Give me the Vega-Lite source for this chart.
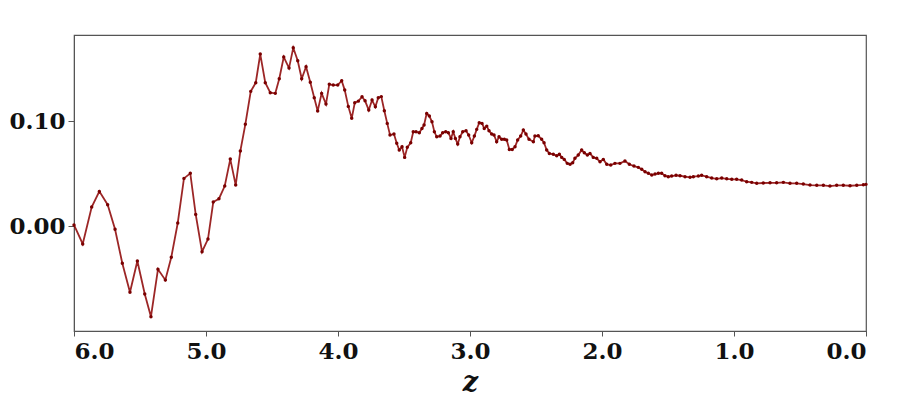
{
  "$schema": "https://vega.github.io/schema/vega-lite/v6.json",
  "width": 792,
  "height": 296,
  "autosize": {"type": "none"},
  "padding": {"left": 74, "top": 35, "right": 31, "bottom": 83},
  "background": "white",
  "config": {
    "view": {"stroke": "#555555", "strokeWidth": 1.2},
    "axis": {
      "grid": false,
      "domainColor": "#555555",
      "tickColor": "#555555",
      "labelFont": "DejaVu Serif",
      "labelFontWeight": "bold",
      "labelFontSize": 23,
      "labelColor": "#111111",
      "titleFont": "DejaVu Serif",
      "titleColor": "#111111"
    }
  },
  "data": {
    "values": [
      {"z": 6.0, "v": 0.001}, {"z": 5.934, "v": -0.0171}, {"z": 5.866, "v": 0.0181}, {"z": 5.808, "v": 0.033},
      {"z": 5.745, "v": 0.0203}, {"z": 5.689, "v": -0.0031}, {"z": 5.634, "v": -0.0355}, {"z": 5.576, "v": -0.0631},
      {"z": 5.52, "v": -0.0333}, {"z": 5.464, "v": -0.0648}, {"z": 5.417, "v": -0.0864}, {"z": 5.364, "v": -0.0412},
      {"z": 5.308, "v": -0.0514}, {"z": 5.263, "v": -0.0298}, {"z": 5.214, "v": 0.0029}, {"z": 5.167, "v": 0.0454},
      {"z": 5.119, "v": 0.0502}, {"z": 5.078, "v": 0.0111}, {"z": 5.03, "v": -0.0245}, {"z": 4.985, "v": -0.0124},
      {"z": 4.945, "v": 0.0229}, {"z": 4.902, "v": 0.026}, {"z": 4.858, "v": 0.0381}, {"z": 4.816, "v": 0.0638},
      {"z": 4.775, "v": 0.039}, {"z": 4.74, "v": 0.0714}, {"z": 4.702, "v": 0.0969}, {"z": 4.661, "v": 0.1283},
      {"z": 4.623, "v": 0.1365}, {"z": 4.589, "v": 0.1638}, {"z": 4.551, "v": 0.1365}, {"z": 4.513, "v": 0.127},
      {"z": 4.475, "v": 0.1264}, {"z": 4.445, "v": 0.1403}, {"z": 4.411, "v": 0.161}, {"z": 4.371, "v": 0.1505},
      {"z": 4.339, "v": 0.1698}, {"z": 4.305, "v": 0.1574}, {"z": 4.275, "v": 0.1403}, {"z": 4.242, "v": 0.1517},
      {"z": 4.21, "v": 0.1369}, {"z": 4.18, "v": 0.1222}, {"z": 4.154, "v": 0.1095}, {"z": 4.124, "v": 0.1264},
      {"z": 4.091, "v": 0.1162}, {"z": 4.066, "v": 0.135}, {"z": 4.036, "v": 0.1343}, {"z": 4.002, "v": 0.1343},
      {"z": 3.972, "v": 0.1384}, {"z": 3.949, "v": 0.1295}, {"z": 3.922, "v": 0.114}, {"z": 3.896, "v": 0.1026},
      {"z": 3.873, "v": 0.1174}, {"z": 3.846, "v": 0.119}, {"z": 3.818, "v": 0.1231}, {"z": 3.795, "v": 0.1193},
      {"z": 3.767, "v": 0.1105}, {"z": 3.742, "v": 0.12}, {"z": 3.717, "v": 0.1136}, {"z": 3.695, "v": 0.1222},
      {"z": 3.672, "v": 0.1233}, {"z": 3.649, "v": 0.1098}, {"z": 3.627, "v": 0.0978}, {"z": 3.606, "v": 0.0867},
      {"z": 3.576, "v": 0.0876}, {"z": 3.555, "v": 0.0788}, {"z": 3.536, "v": 0.0724}, {"z": 3.515, "v": 0.0755},
      {"z": 3.495, "v": 0.0654}, {"z": 3.475, "v": 0.075}, {"z": 3.449, "v": 0.0793}, {"z": 3.43, "v": 0.0898},
      {"z": 3.409, "v": 0.0898}, {"z": 3.384, "v": 0.0889}, {"z": 3.364, "v": 0.093}, {"z": 3.348, "v": 0.0962},
      {"z": 3.328, "v": 0.1073}, {"z": 3.308, "v": 0.1048}, {"z": 3.288, "v": 0.0993}, {"z": 3.27, "v": 0.0898},
      {"z": 3.252, "v": 0.085}, {"z": 3.227, "v": 0.0857}, {"z": 3.207, "v": 0.0889}, {"z": 3.184, "v": 0.0898},
      {"z": 3.164, "v": 0.0889}, {"z": 3.144, "v": 0.0835}, {"z": 3.127, "v": 0.0898}, {"z": 3.111, "v": 0.0835},
      {"z": 3.093, "v": 0.0781}, {"z": 3.076, "v": 0.085}, {"z": 3.055, "v": 0.0898}, {"z": 3.03, "v": 0.0908},
      {"z": 3.01, "v": 0.0867}, {"z": 2.987, "v": 0.0793}, {"z": 2.967, "v": 0.0857}, {"z": 2.949, "v": 0.0921},
      {"z": 2.93, "v": 0.0984}, {"z": 2.909, "v": 0.0978}, {"z": 2.892, "v": 0.093}, {"z": 2.873, "v": 0.0952},
      {"z": 2.856, "v": 0.0908}, {"z": 2.836, "v": 0.0876}, {"z": 2.818, "v": 0.0867}, {"z": 2.798, "v": 0.0803},
      {"z": 2.78, "v": 0.085}, {"z": 2.76, "v": 0.0826}, {"z": 2.74, "v": 0.0826}, {"z": 2.722, "v": 0.0819},
      {"z": 2.702, "v": 0.073}, {"z": 2.68, "v": 0.073}, {"z": 2.659, "v": 0.0755}, {"z": 2.639, "v": 0.0819},
      {"z": 2.616, "v": 0.0857}, {"z": 2.596, "v": 0.0914}, {"z": 2.576, "v": 0.0876}, {"z": 2.553, "v": 0.0826},
      {"z": 2.52, "v": 0.0803}, {"z": 2.508, "v": 0.0857}, {"z": 2.483, "v": 0.086}, {"z": 2.457, "v": 0.0826},
      {"z": 2.439, "v": 0.0793}, {"z": 2.419, "v": 0.0724}, {"z": 2.399, "v": 0.0692}, {"z": 2.369, "v": 0.0683},
      {"z": 2.343, "v": 0.067}, {"z": 2.323, "v": 0.0683}, {"z": 2.305, "v": 0.0654}, {"z": 2.286, "v": 0.0635},
      {"z": 2.263, "v": 0.0597}, {"z": 2.242, "v": 0.0588}, {"z": 2.222, "v": 0.0603}, {"z": 2.205, "v": 0.0645},
      {"z": 2.18, "v": 0.0676}, {"z": 2.154, "v": 0.0724}, {"z": 2.134, "v": 0.0698}, {"z": 2.111, "v": 0.0676},
      {"z": 2.091, "v": 0.0692}, {"z": 2.066, "v": 0.0654}, {"z": 2.04, "v": 0.0645}, {"z": 2.015, "v": 0.0612},
      {"z": 1.99, "v": 0.0635}, {"z": 1.964, "v": 0.0588}, {"z": 1.934, "v": 0.0581}, {"z": 1.902, "v": 0.0597},
      {"z": 1.864, "v": 0.0597}, {"z": 1.826, "v": 0.0619}, {"z": 1.793, "v": 0.0588}, {"z": 1.758, "v": 0.0571},
      {"z": 1.725, "v": 0.0559}, {"z": 1.699, "v": 0.054}, {"z": 1.674, "v": 0.0517}, {"z": 1.649, "v": 0.0502},
      {"z": 1.623, "v": 0.0486}, {"z": 1.598, "v": 0.0495}, {"z": 1.573, "v": 0.0502}, {"z": 1.548, "v": 0.0502},
      {"z": 1.523, "v": 0.0479}, {"z": 1.498, "v": 0.047}, {"z": 1.472, "v": 0.0476}, {"z": 1.439, "v": 0.0483},
      {"z": 1.409, "v": 0.0479}, {"z": 1.371, "v": 0.047}, {"z": 1.333, "v": 0.0464}, {"z": 1.308, "v": 0.047},
      {"z": 1.27, "v": 0.0476}, {"z": 1.245, "v": 0.0483}, {"z": 1.207, "v": 0.047}, {"z": 1.169, "v": 0.0457},
      {"z": 1.131, "v": 0.045}, {"z": 1.093, "v": 0.0457}, {"z": 1.055, "v": 0.045}, {"z": 1.017, "v": 0.0445},
      {"z": 0.98, "v": 0.0445}, {"z": 0.942, "v": 0.0438}, {"z": 0.904, "v": 0.0422}, {"z": 0.866, "v": 0.0416},
      {"z": 0.828, "v": 0.0407}, {"z": 0.778, "v": 0.041}, {"z": 0.727, "v": 0.0412}, {"z": 0.677, "v": 0.0412},
      {"z": 0.626, "v": 0.0416}, {"z": 0.576, "v": 0.0407}, {"z": 0.525, "v": 0.0407}, {"z": 0.475, "v": 0.04},
      {"z": 0.424, "v": 0.039}, {"z": 0.373, "v": 0.0388}, {"z": 0.323, "v": 0.0388}, {"z": 0.273, "v": 0.0381},
      {"z": 0.222, "v": 0.0388}, {"z": 0.172, "v": 0.0388}, {"z": 0.121, "v": 0.0384}, {"z": 0.07, "v": 0.0388},
      {"z": 0.02, "v": 0.0393}, {"z": 0.0, "v": 0.0397}
    ]
  },
  "encoding": {
    "x": {
      "field": "z",
      "type": "quantitative",
      "scale": {"domain": [0, 6], "reverse": true, "nice": false, "zero": false},
      "axis": {
        "values": [0, 1, 2, 3, 4, 5, 6],
        "format": ".1f",
        "tickSize": 5,
        "labelPadding": 4,
        "title": "z",
        "titleFontStyle": "italic",
        "titleFontWeight": "bold",
        "titleFontSize": 27,
        "titlePadding": 6
      }
    },
    "y": {
      "field": "v",
      "type": "quantitative",
      "scale": {"domain": [-0.1, 0.182], "nice": false, "zero": false},
      "axis": {
        "values": [0, 0.1],
        "format": ".2f",
        "tickSize": 6,
        "labelPadding": 3,
        "title": null
      }
    }
  },
  "layer": [
    {"mark": {"type": "line", "color": "#8b0000", "strokeWidth": 1.8, "opacity": 0.85}},
    {"mark": {"type": "point", "filled": true, "color": "#7a0000", "size": 12, "opacity": 1}}
  ]
}
